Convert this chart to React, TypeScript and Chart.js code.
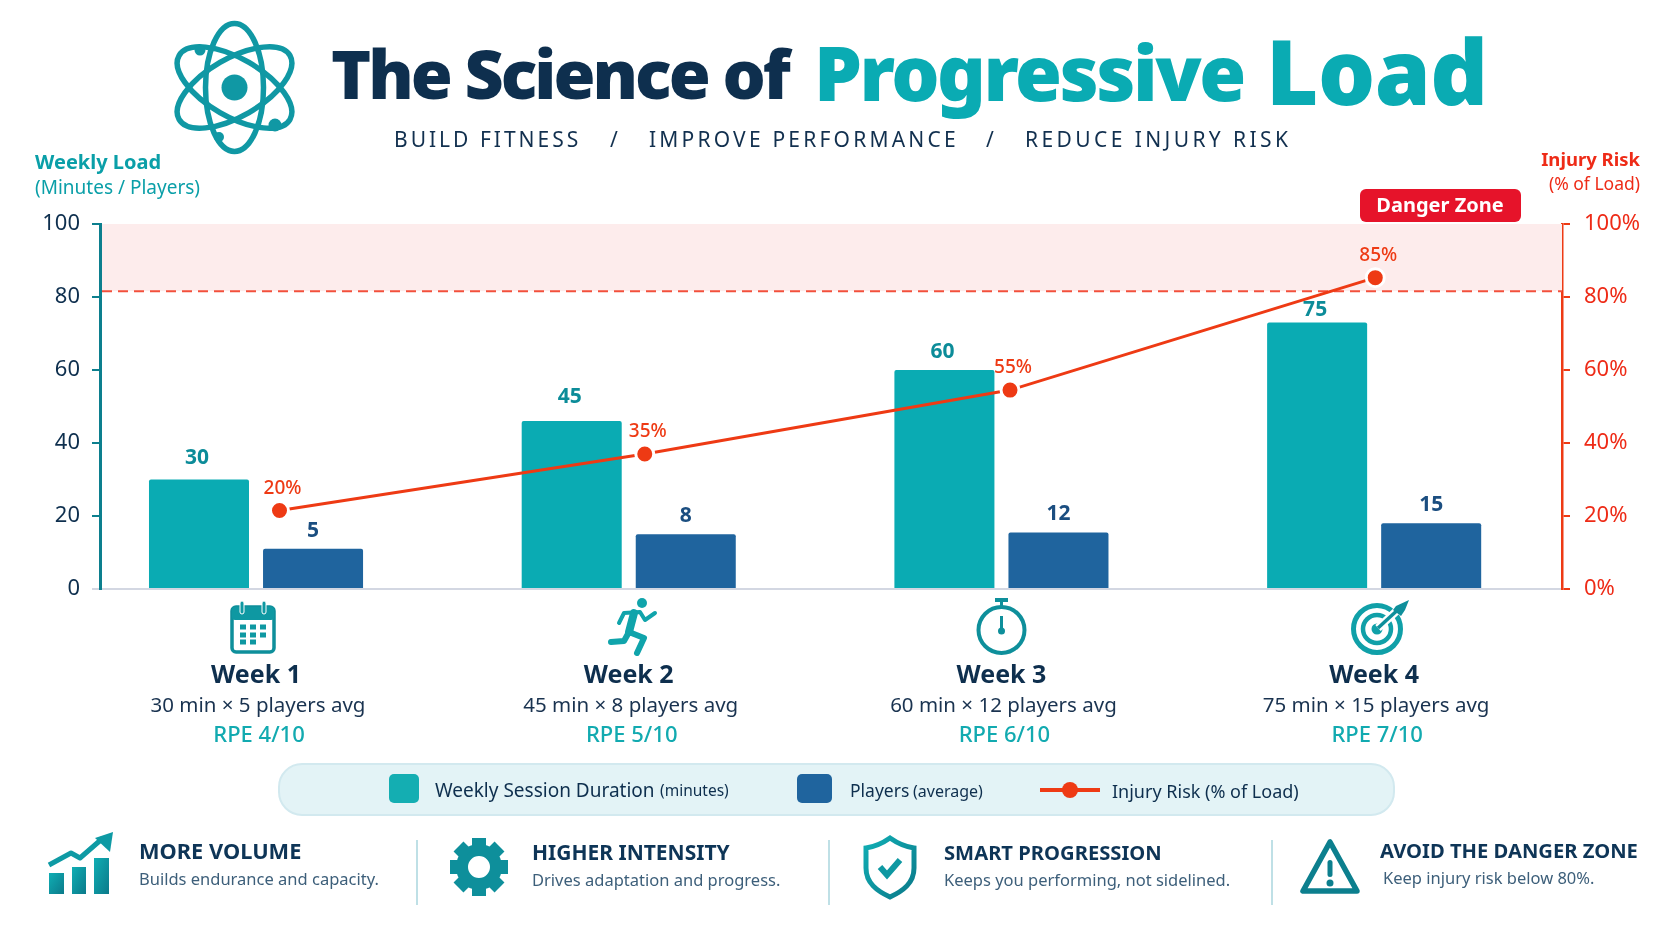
import { useEffect, useRef, type CSSProperties, type ReactNode } from "react"
import { Chart, registerables } from "chart.js"

Chart.register(...registerables)

// bar heights are read off the axis, the printed numbers above them are kept apart
// because the picture's labels do not quite agree with its bars
const weeks = ["Week 1", "Week 2", "Week 3", "Week 4"]
const minutes = [30, 46, 60, 73]
const players = [11, 15, 15.5, 18]
const risk = [21.5, 37, 54.5, 85.3]
const minuteLabels = ["30", "45", "60", "75"]
const playerLabels = ["5", "8", "12", "15"]
const riskLabels = ["20%", "35%", "55%", "85%"]
const weekDetails = ["30 min × 5 players avg", "45 min × 8 players avg", "60 min × 12 players avg", "75 min × 15 players avg"]
const weekRpe = ["RPE 4/10", "RPE 5/10", "RPE 6/10", "RPE 7/10"]
const dangerFloor = 81.6

const FONT = '"Noto Sans", sans-serif'
const TEAL = "#0aabb3"
const TEAL_TEXT = "#0a9fa8"
const TEAL_DARK = "#0c7f8e"
const BLUE = "#1f649e"
const NAVY = "#0e2f4e"
const RED = "#ee3a14"

const labelsPlugin = {
  id: "labels",
  beforeDatasetsDraw(chart: any) {
    const { ctx, chartArea, scales } = chart
    const floor = scales.y.getPixelForValue(dangerFloor)
    ctx.save()
    ctx.fillStyle = "#fdecec"
    ctx.fillRect(chartArea.left + 2, chartArea.top, chartArea.width - 2, floor - chartArea.top)
    ctx.strokeStyle = "#f2503c"
    ctx.lineWidth = 2
    ctx.setLineDash([10, 6])
    ctx.beginPath()
    ctx.moveTo(chartArea.left + 2, floor)
    ctx.lineTo(chartArea.right, floor)
    ctx.stroke()
    ctx.restore()
  },
  afterDatasetsDraw(chart: any) {
    const { ctx, scales } = chart
    const minuteGaps = [21, 24, 18, 13]
    ctx.save()
    ctx.textAlign = "center"
    ctx.textBaseline = "middle"

    ctx.font = `700 21px ${FONT}`
    ctx.fillStyle = "#0c8c99"
    chart.getDatasetMeta(0).data.forEach((el: any, i: number) => ctx.fillText(minuteLabels[i], el.x - 2, el.y - minuteGaps[i]))
    ctx.fillStyle = "#1b4e80"
    chart.getDatasetMeta(1).data.forEach((el: any, i: number) => ctx.fillText(playerLabels[i], el.x, el.y - 18))

    ctx.font = `500 19px ${FONT}`
    ctx.fillStyle = RED
    chart.getDatasetMeta(2).data.forEach((el: any, i: number) => ctx.fillText(riskLabels[i], el.x + 3, el.y - 22))

    // lines under the week names
    weeks.forEach((_, i) => {
      const x = scales.x.getPixelForValue(i)
      ctx.font = `400 20.5px ${FONT}`
      ctx.fillStyle = "#1a3350"
      ctx.fillText(weekDetails[i], x + 2, 706)
      ctx.font = `500 22px ${FONT}`
      ctx.fillStyle = "#12aab0"
      ctx.fillText(weekRpe[i], x + 3, 736)
    })
    ctx.restore()
  },
}

function T(props: {
  x: number
  y: number
  size: number
  color: string
  weight?: number
  align?: "left" | "center" | "right"
  spacing?: number
  children: ReactNode
}) {
  const { x, y, size, color, weight = 400, align = "left", spacing = 0, children } = props
  const shift = align === "left" ? "0" : align === "center" ? "-50%" : "-100%"
  const style: CSSProperties = {
    position: "absolute",
    left: x,
    top: y,
    transform: `translate(${shift}, -50%)`,
    fontSize: size,
    fontWeight: weight,
    color,
    letterSpacing: spacing,
    lineHeight: 1,
    whiteSpace: "pre",
  }
  return <div style={style}>{children}</div>
}

function Icons() {
  const gearTeeth = [0, 45, 90, 135, 180, 225, 270, 315]
  const calCols = [243, 253, 263]
  const calRows = [627, 635, 642]
  return (
    <svg width={1672} height={941} style={{ position: "absolute", left: 0, top: 0 }}>
      <defs>
        <linearGradient id="tg" x1="0" y1="0" x2="1" y2="1">
          <stop offset="0" stopColor="#10aeb4" />
          <stop offset="1" stopColor="#0b7a8a" />
        </linearGradient>
      </defs>

      {/* atom */}
      <g fill="none" stroke="#1098a4" strokeWidth={5.5}>
        <ellipse cx={234.5} cy={87.5} rx={29} ry={64} />
        <ellipse cx={234.5} cy={87.5} rx={29} ry={64} transform="rotate(60 234.5 87.5)" />
        <ellipse cx={234.5} cy={87.5} rx={29} ry={64} transform="rotate(-60 234.5 87.5)" />
      </g>
      <circle cx={234.5} cy={87.5} r={13} fill="#1098a4" />
      <circle cx={200} cy={50} r={5.5} fill="#1098a4" />
      <circle cx={275} cy={125} r={6.5} fill="#1098a4" />
      <circle cx={219} cy={137} r={5} fill="#1098a4" />

      {/* week icons */}
      <g fill="#0e98a2">
        <rect x={232} y={607} width={42} height={45} rx={4} fill="none" stroke="#0e8f9b" strokeWidth={3.5} />
        <rect x={232} y={607} width={42} height={13} rx={3} />
        <rect x={240} y={601} width={4} height={13} rx={2} stroke="#fff" strokeWidth={1} />
        <rect x={262} y={601} width={4} height={13} rx={2} stroke="#fff" strokeWidth={1} />
        {calRows.map((y, r) =>
          calCols.slice(0, r === 2 ? 2 : 3).map((x) => <rect key={`${x}-${y}`} x={x - 3} y={y - 2.5} width={6} height={5} />),
        )}
      </g>
      <g fill="none" stroke="#10a4ab" strokeWidth={6} strokeLinecap="round" strokeLinejoin="round">
        <circle cx={642} cy={603} r={5} fill="#10a4ab" stroke="none" />
        <polyline points="619,623 624,613 640,612 645,620 655,613" strokeWidth={4} />
        <polyline points="634,613 629,632" strokeWidth={8} />
        <polyline points="629,632 644,638 637,653" />
        <polyline points="629,632 624,641 611,642" />
      </g>
      <g>
        <circle cx={1001.5} cy={630} r={23} fill="none" stroke="#0e8f9b" strokeWidth={4} />
        <rect x={995} y={598} width={13} height={4} fill="#0e8f9b" />
        <rect x={1000} y={602} width={3} height={5} fill="#0e8f9b" />
        <line x1={1001.5} y1={616} x2={1001.5} y2={630} stroke="#0e8f9b" strokeWidth={3} />
        <circle cx={1001.5} cy={631} r={3.5} fill="#0e8f9b" />
      </g>
      <g fill="none" stroke="#10a0a8">
        <circle cx={1377} cy={629} r={23.5} strokeWidth={5} />
        <circle cx={1377} cy={629} r={14} strokeWidth={4.5} />
        <circle cx={1377} cy={629} r={5.5} fill="#10a0a8" stroke="none" />
        <line x1={1378} y1={628} x2={1402} y2={606} stroke="#fff" strokeWidth={8} />
        <line x1={1378} y1={628} x2={1402} y2={606} strokeWidth={3.5} stroke="#0e8f9b" />
        <polygon points="1396,606 1409,600 1405,610 1401,616 1393,610" fill="#0e8f9b" stroke="none" />
      </g>

      {/* legend marks */}
      <rect x={389} y={774} width={30} height={29} rx={5} fill="#14aeb2" />
      <rect x={797} y={774} width={35} height={29} rx={5} fill={BLUE} />
      <line x1={1040} y1={790} x2={1100} y2={790} stroke={RED} strokeWidth={4} />
      <circle cx={1070} cy={790} r={8} fill={RED} />

      {/* dividers */}
      <line x1={417} y1={840} x2={417} y2={905} stroke="#bfe0e6" strokeWidth={2} />
      <line x1={829} y1={840} x2={829} y2={905} stroke="#bfe0e6" strokeWidth={2} />
      <line x1={1272} y1={840} x2={1272} y2={905} stroke="#bfe0e6" strokeWidth={2} />

      {/* bottom icons */}
      <g fill="url(#tg)">
        <rect x={49} y={873} width={15} height={21} />
        <rect x={72} y={867} width={14} height={27} />
        <rect x={94} y={858} width={15} height={36} />
      </g>
      <polyline points="49,865 71,853 80,858 103,838" fill="none" stroke="#0e9aa4" strokeWidth={5} strokeLinejoin="round" />
      <polygon points="113,832 110,852 95,838" fill="#0e9aa4" />
      <g fill="url(#tg)">
        <circle cx={479} cy={867} r={17} fill="none" stroke="#0e8f9b" strokeWidth={12} />
        {gearTeeth.map((a) => (
          <rect key={a} x={472} y={838} width={14} height={12} fill="#0e8f9b" transform={`rotate(${a} 479 867)`} />
        ))}
      </g>
      <path
        d="M890 838 C880 845 873 847 866 848 L866 868 C866 883 877 891 890 897 C903 891 914 883 914 868 L914 848 C907 847 900 845 890 838Z"
        fill="none"
        stroke="url(#tg)"
        strokeWidth={5}
      />
      <polyline points="880,867 887,875 900,860" fill="none" stroke="#0e98a2" strokeWidth={6} />
      <polygon points="1330,842 1303,891 1357,891" fill="none" stroke={TEAL_DARK} strokeWidth={5.5} strokeLinejoin="round" />
      <rect x={1327.5} y={860} width={5} height={17} rx={2.5} fill={TEAL_DARK} />
      <circle cx={1330} cy={883} r={3.5} fill={TEAL_DARK} />
    </svg>
  )
}

export default function App() {
  const canvasRef = useRef<HTMLCanvasElement>(null)

  useEffect(() => {
    if (!canvasRef.current) return

    const chart = new Chart(canvasRef.current, {
      type: "bar",
      data: {
        datasets: [
          {
            label: "Weekly Session Duration",
            data: minutes.map((y, x) => ({ x, y })),
            backgroundColor: TEAL,
            borderRadius: 2,
            categoryPercentage: 0.612,
            barPercentage: 0.877,
            order: 1,
          },
          {
            label: "Players",
            data: players.map((y, x) => ({ x, y })),
            backgroundColor: BLUE,
            borderRadius: 2,
            categoryPercentage: 0.612,
            barPercentage: 0.877,
            order: 2,
          },
          {
            type: "line",
            label: "Injury Risk",
            // the dots sit right of the group middles and a little closer together than the groups
            data: risk.map((y, x) => ({ x: x * 0.98 + 0.063, y })),
            yAxisID: "y1",
            borderColor: RED,
            borderWidth: 3,
            pointRadius: 9,
            pointBorderWidth: 3,
            pointBackgroundColor: RED,
            pointBorderColor: "#fff",
            order: 0,
          },
        ] as any,
      },
      options: {
        responsive: false,
        animation: false,
        layout: { padding: { top: 224 } },
        plugins: { legend: { display: false }, tooltip: { enabled: false } },
        scales: {
          x: {
            type: "linear",
            position: "bottom",
            offset: false,
            min: -0.4186,
            max: 3.504,
            afterBuildTicks: (s: any) => {
              s.ticks = weeks.map((_, value) => ({ value }))
            },
            afterFit: (s: any) => {
              s.height = 352
            },
            border: { color: "#d3d7e2", width: 2 },
            grid: { display: false, drawTicks: false },
            ticks: {
              autoSkip: false,
              maxRotation: 0,
              padding: 72,
              color: NAVY,
              font: { family: FONT, size: 25, weight: 700 },
              callback: (v: any) => weeks[v],
            },
          },
          y: {
            position: "left",
            min: 0,
            max: 100,
            afterFit: (s: any) => {
              s.width = 100
            },
            border: { color: TEAL_DARK, width: 3 },
            grid: {
              drawOnChartArea: false,
              tickLength: 8,
              lineWidth: 2,
              color: (c: any) => (c.tick.value === 0 ? "#d3d7e2" : TEAL_DARK),
            },
            ticks: { stepSize: 20, padding: 12, color: NAVY, font: { family: FONT, size: 22 } },
          },
          y1: {
            position: "right",
            min: 0,
            max: 100,
            afterFit: (s: any) => {
              s.width = 110
            },
            border: { color: RED, width: 2.5 },
            grid: { drawOnChartArea: false, tickLength: 8, lineWidth: 2, color: RED },
            ticks: {
              stepSize: 20,
              padding: 14,
              color: "#ee2b17",
              font: { family: FONT, size: 22 },
              callback: (v: any) => `${v}%`,
            },
          },
        },
      } as any,
      plugins: [labelsPlugin],
    })

    return () => chart.destroy()
  }, [])

  return (
    <div
      style={{
        position: "absolute",
        left: 0,
        top: 0,
        width: 1672,
        height: 941,
        overflow: "hidden",
        background: "#fff",
        fontFamily: FONT,
      }}
    >
      <div
        style={{
          position: "absolute",
          left: 278,
          top: 763,
          width: 1117,
          height: 53,
          boxSizing: "border-box",
          borderRadius: 24,
          background: "#e3f3f6",
          border: "2px solid #d2e9ef",
        }}
      />
      <canvas ref={canvasRef} width={1672} height={941} style={{ position: "absolute", left: 0, top: 0 }} />
      <Icons />

      <T x={331} y={73} size={68} weight={900} color={NAVY} spacing={-3}>The Science of</T>
      <T x={814} y={72} size={76} weight={900} color={TEAL} spacing={-2.5}>Progressive</T>
      <T x={1266} y={70} size={90} weight={900} color={TEAL} spacing={-0.5}>Load</T>

      <T x={394} y={139} size={21} color="#12304f" spacing={3}>BUILD FITNESS</T>
      <T x={610} y={139} size={21} color="#12304f">/</T>
      <T x={649} y={139} size={21} color="#12304f" spacing={3.2}>IMPROVE PERFORMANCE</T>
      <T x={986} y={139} size={21} color="#12304f">/</T>
      <T x={1025} y={139} size={21} color="#12304f" spacing={3.4}>REDUCE INJURY RISK</T>

      <T x={35} y={162} size={20} weight={700} color={TEAL_TEXT}>Weekly Load</T>
      <T x={35} y={187} size={19} color={TEAL_TEXT}>(Minutes / Players)</T>
      <T x={1640} y={159} size={18.5} weight={700} align="right" color="#ee2b17">Injury Risk</T>
      <T x={1640} y={184} size={17.5} align="right" color="#ee2b17">(% of Load)</T>

      <div
        style={{
          position: "absolute",
          left: 1360,
          top: 189,
          width: 161,
          height: 33,
          borderRadius: 6,
          background: "#e6132a",
        }}
      />
      <T x={1440} y={205} size={20} weight={700} align="center" color="#fff">Danger Zone</T>

      <T x={435} y={790} size={19} color={NAVY}>Weekly Session Duration</T>
      <T x={660} y={791} size={15.5} color={NAVY}>(minutes)</T>
      <T x={850} y={791} size={17.5} color={NAVY}>Players</T>
      <T x={913} y={791} size={16} color={NAVY}>(average)</T>
      <T x={1112} y={791} size={18} color={NAVY}>Injury Risk (% of Load)</T>

      <T x={139} y={851} size={21.8} weight={700} color="#0e3557">MORE VOLUME</T>
      <T x={139} y={879} size={16.5} color="#3d5f7a">Builds endurance and capacity.</T>
      <T x={532} y={852} size={21} weight={700} color="#0e3557">HIGHER INTENSITY</T>
      <T x={532} y={880} size={16.5} color="#3d5f7a">Drives adaptation and progress.</T>
      <T x={944} y={852} size={20.2} weight={700} color="#0e3557">SMART PROGRESSION</T>
      <T x={944} y={880} size={16.5} color="#3d5f7a">Keeps you performing, not sidelined.</T>
      <T x={1380} y={850} size={20.2} weight={700} color="#0e3557">AVOID THE DANGER ZONE</T>
      <T x={1383} y={878} size={16.5} color="#3d5f7a">Keep injury risk below 80%.</T>
    </div>
  )
}
